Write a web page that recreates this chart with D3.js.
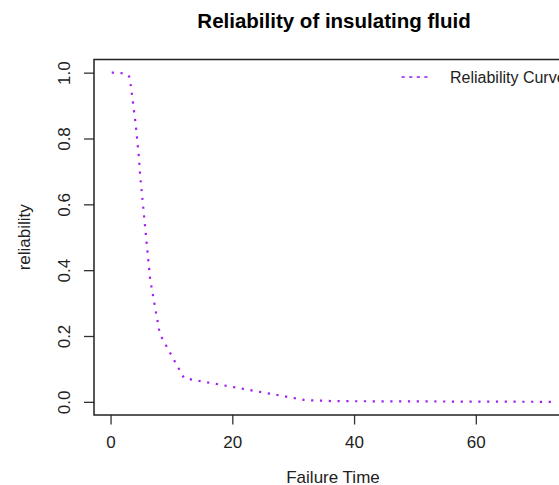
<!DOCTYPE html>
<html>
<head>
<meta charset="utf-8">
<script src="https://cdn.jsdelivr.net/npm/d3@7/dist/d3.min.js"></script>
<style>
  body { margin: 0; background: #fff; }
  text { font-family: "Liberation Sans", Arial, sans-serif; }
</style>
</head>
<body>
<script>
// failure times and reliability
var failureTimes = [0.19, 0.78, 0.96, 1.31, 2.78, 3.16, 4.15, 4.67, 4.85, 6.50, 7.35, 8.01, 8.27, 12.06, 31.75, 32.52, 33.91, 36.71, 72.89];
var reliability = [1.000, 1.000, 1.000, 1.000, 0.995, 0.985, 0.840, 0.740, 0.690, 0.373, 0.283, 0.215, 0.200, 0.072, 0.006, 0.005, 0.004, 0.002, 0.000];
var xTicks = [0, 20, 40, 60];
var yTicks = [0, 0.2, 0.4, 0.6, 0.8, 1.0];

var w = 559, h = 485;
var box = {left: 94, top: 59.5, right: 572, bottom: 415};

var svg = d3.select("body").append("svg")
    .attr("width", w)
    .attr("height", h);

var xScale = d3.scaleLinear()
    .domain([-2.72, 75.8])
    .range([box.left, box.right]);

var yScale = d3.scaleLinear()
    .domain([-0.04, 1.04])
    .range([box.bottom, box.top]);

// title
svg.append("text")
    .attr("x", 334)
    .attr("y", 28)
    .attr("text-anchor", "middle")
    .style("font-size", "20.5px")
    .style("font-weight", "bold")
    .attr("fill", "#000")
    .text("Reliability of insulating fluid");

// x axis
var xAxis = svg.append("g")
    .attr("transform", "translate(0," + box.bottom + ")")
    .call(d3.axisBottom(xScale).tickValues(xTicks).tickSize(9.5).tickFormat(d3.format("d")));
xAxis.select(".domain").remove();
xAxis.selectAll(".tick line").attr("stroke", "#333").attr("stroke-width", 1.3);
xAxis.selectAll(".tick text")
    .attr("y", 33)
    .attr("dy", 0)
    .attr("fill", "#222")
    .style("font-size", "17px")
    .style("font-family", "'Liberation Sans', Arial, sans-serif");

// y axis, labels turned like R's default
var yAxis = svg.append("g")
    .attr("transform", "translate(" + box.left + ",0)")
    .call(d3.axisLeft(yScale).tickValues(yTicks).tickSize(10).tickFormat(d3.format(".1f")));
yAxis.select(".domain").remove();
yAxis.selectAll(".tick line").attr("stroke", "#333").attr("stroke-width", 1.3);
yAxis.selectAll(".tick text")
    .attr("x", 0)
    .attr("dy", 0)
    .attr("text-anchor", "middle")
    .attr("transform", "translate(-24,0) rotate(-90)")
    .attr("fill", "#222")
    .style("font-size", "17px")
    .style("font-family", "'Liberation Sans', Arial, sans-serif");

// plot box
svg.append("rect")
    .attr("x", box.left)
    .attr("y", box.top)
    .attr("width", box.right - box.left)
    .attr("height", box.bottom - box.top)
    .attr("fill", "none")
    .attr("stroke", "#222")
    .attr("stroke-width", 1.5);

// axis titles
svg.append("text")
    .attr("x", 333)
    .attr("y", 483)
    .attr("text-anchor", "middle")
    .attr("fill", "#222")
    .style("font-size", "17px")
    .text("Failure Time");

svg.append("text")
    .attr("transform", "translate(30," + yScale(0.5) + ") rotate(-90)")
    .attr("text-anchor", "middle")
    .attr("fill", "#222")
    .style("font-size", "17px")
    .text("reliability");

// the curve
var pts = failureTimes.map(function(t, i) { return [t, reliability[i]]; });
var line = d3.line()
    .x(function(d) { return xScale(d[0]); })
    .y(function(d) { return yScale(d[1]); });

svg.append("path")
    .datum(pts)
    .attr("d", line)
    .attr("fill", "none")
    .attr("stroke", "#A020F0")
    .attr("stroke-width", 2.2)
    .attr("stroke-dasharray", "2.2 6.6");

// legend (runs off the right edge, as in the original)
svg.append("line")
    .attr("x1", 401.5)
    .attr("x2", 432)
    .attr("y1", 77)
    .attr("y2", 77)
    .attr("stroke", "#A020F0")
    .attr("stroke-width", 1.3)
    .attr("stroke-dasharray", "3.3 4.3");

svg.append("text")
    .attr("x", 450)
    .attr("y", 83)
    .attr("fill", "#222")
    .style("font-size", "16px")
    .text("Reliability Curve");
</script>
</body>
</html>
